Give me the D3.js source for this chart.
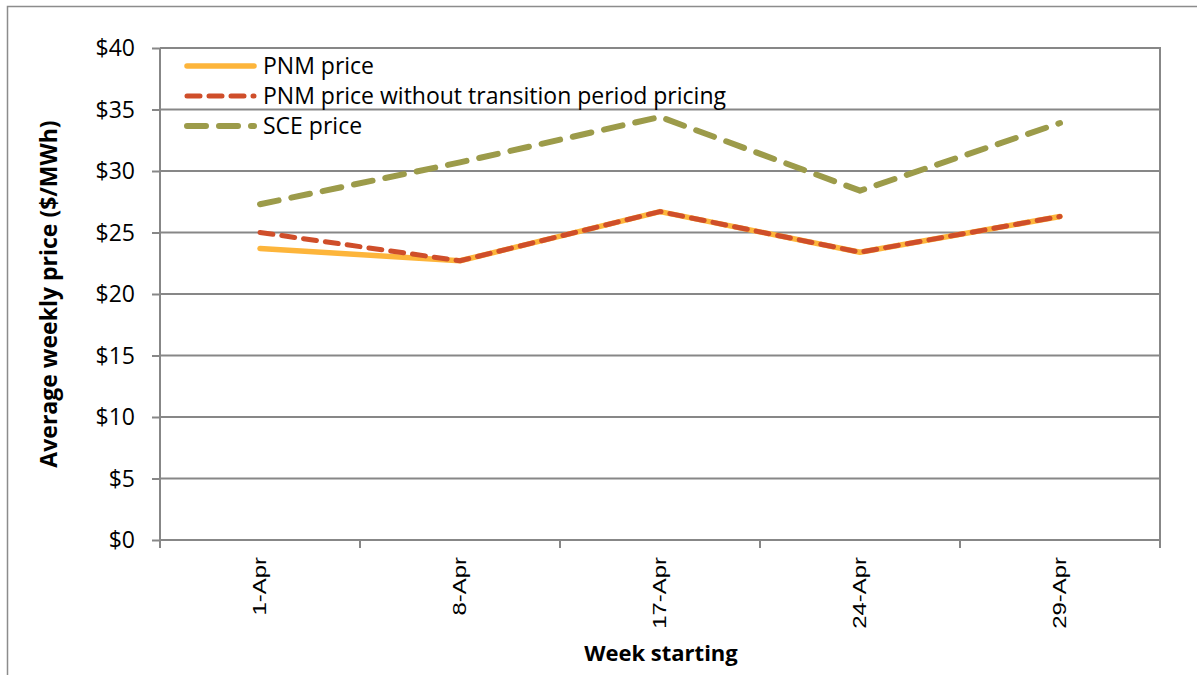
<!DOCTYPE html>
<html>
<head>
<meta charset="utf-8">
<script src="https://cdn.jsdelivr.net/npm/d3@7"></script>
<style>
  html, body { margin: 0; padding: 0; background: #ffffff; }
  svg { display: block; }
</style>
</head>
<body>
<svg id="chart" width="1197" height="675"></svg>
<script>
const categories = ["1-Apr", "8-Apr", "17-Apr", "24-Apr", "29-Apr"];
const pnmPrice = [23.7, 22.7, 26.7, 23.4, 26.3];
const pnmNoTransition = [25.0, 22.7, 26.7, 23.4, 26.3];
const scePrice = [27.3, 30.7, 34.4, 28.4, 33.9];
const yTicks = [0, 5, 10, 15, 20, 25, 30, 35, 40];
const seriesNames = ["PNM price", "PNM price without transition period pricing", "SCE price"];

const svg = d3.select("#chart");
const W = 1197, H = 675;
const m = { left: 160, right: 1160, top: 48, bottom: 540 };
const font = "Open Sans, sans-serif";

// outer frame
svg.append("rect").attr("x", 7.5).attr("y", 6.5).attr("width", W + 10).attr("height", H + 10)
  .attr("fill", "#fff").attr("stroke", "#8c8c8c").attr("stroke-width", 1.5);

const x = d3.scaleBand().domain(categories).range([m.left, m.right]);
const y = d3.scaleLinear().domain([0, 40]).range([m.bottom, m.top]);

const gridColor = "#878787";

// gridlines
svg.append("g").selectAll("line").data(yTicks.filter(d => d > 0)).join("line")
  .attr("x1", m.left).attr("x2", m.right)
  .attr("y1", d => y(d)).attr("y2", d => y(d))
  .attr("stroke", gridColor).attr("stroke-width", 2);

// right border of plot
svg.append("line").attr("x1", m.right).attr("x2", m.right).attr("y1", m.top - 1).attr("y2", m.bottom + 8)
  .attr("stroke", gridColor).attr("stroke-width", 2);

// y axis
const yAxis = d3.axisLeft(y).tickValues(yTicks).tickSize(8).tickPadding(17).tickFormat(d => "$" + d);
const gy = svg.append("g").attr("transform", `translate(${m.left},0)`).call(yAxis);
gy.select(".domain").attr("stroke", gridColor).attr("stroke-width", 2).attr("d", `M0,${m.top}V${m.bottom + 8}`);
gy.selectAll(".tick line").attr("stroke", gridColor).attr("stroke-width", 2);
gy.selectAll(".tick text").attr("font-family", font).attr("font-size", 23).attr("fill", "#000")
  .attr("dy", "0.33em");

// x axis
const xEdges = categories.map(c => x(c)).concat([m.right]);
svg.append("line").attr("x1", m.left).attr("x2", m.right).attr("y1", m.bottom).attr("y2", m.bottom)
  .attr("stroke", gridColor).attr("stroke-width", 2);
svg.append("g").selectAll("line").data(xEdges).join("line")
  .attr("x1", d => d).attr("x2", d => d).attr("y1", m.bottom).attr("y2", m.bottom + 8)
  .attr("stroke", gridColor).attr("stroke-width", 2);
svg.append("g").selectAll("text").data(categories).join("text")
  .attr("transform", d => `translate(${x(d) + x.bandwidth() / 2 + 6},557) rotate(-90) scale(1.26,1)`)
  .attr("text-anchor", "end")
  .attr("font-family", "Liberation Sans, Arial, sans-serif").attr("font-size", 19).attr("fill", "#000")
  .text(d => d);

// axis titles
svg.append("text").attr("x", 661).attr("y", 661).attr("text-anchor", "middle")
  .attr("font-family", font).attr("font-weight", "bold").attr("font-size", 22)
  .text("Week starting");
svg.append("text").attr("transform", `translate(57,294) rotate(-90)`).attr("text-anchor", "middle")
  .attr("font-family", font).attr("font-weight", "bold").attr("font-size", 23)
  .text("Average weekly price ($/MWh)");

// lines
const line = d3.line().x((d, i) => x(categories[i]) + x.bandwidth() / 2).y(d => y(d));
const styles = [
  { data: pnmPrice, color: "#FDB53B", dash: null, width: 5.5 },
  { data: pnmNoTransition, color: "#CF4E2A", dash: "13 9", width: 5 },
  { data: scePrice, color: "#9C9B4A", dash: "19 13", width: 6 }
];
styles.forEach(s => {
  svg.append("path").attr("d", line(s.data)).attr("fill", "none")
    .attr("stroke", s.color).attr("stroke-width", s.width)
    .attr("stroke-linecap", "round").attr("stroke-linejoin", "round")
    .attr("stroke-dasharray", s.dash);
});

// legend
const legY = [66, 96, 126];
seriesNames.forEach((name, i) => {
  const s = styles[i];
  svg.append("line").attr("x1", 187).attr("x2", 254).attr("y1", legY[i]).attr("y2", legY[i])
    .attr("stroke", s.color).attr("stroke-width", s.width)
    .attr("stroke-linecap", "round").attr("stroke-dasharray", s.dash);
  svg.append("text").attr("x", 263).attr("y", legY[i] + 8)
    .attr("font-family", font).attr("font-size", 23).attr("fill", "#000")
    .text(name);
});
</script>
</body>
</html>
